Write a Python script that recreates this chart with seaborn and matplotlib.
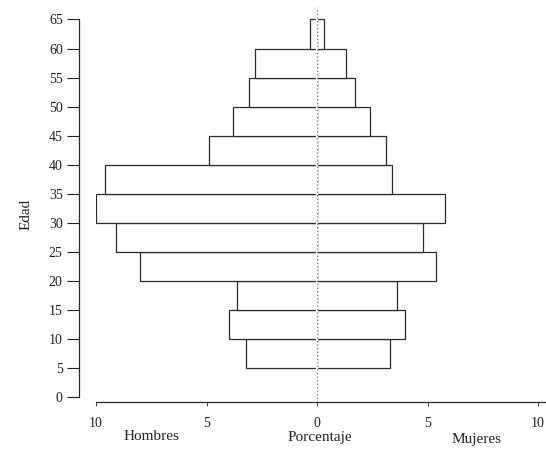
import matplotlib
matplotlib.use("Agg")
import matplotlib.pyplot as plt
import numpy as np
import pandas as pd
import seaborn as sns

# Data (percent of population by 5-year age group)
edad_grupo = [7.5, 12.5, 17.5, 22.5, 27.5, 32.5, 37.5, 42.5, 47.5, 52.5, 57.5, 62.5]
hombres = [3.2, 4.0, 3.6, 8.0, 9.1, 10.0, 9.6, 4.9, 3.8, 3.1, 2.8, 0.3]
mujeres = [3.3, 4.0, 3.6, 5.4, 4.8, 5.8, 3.4, 3.1, 2.4, 1.7, 1.3, 0.3]
x_ticks = [-10, -5, 0, 5, 10]
x_ticklabels = ["10", "5", "0", "5", "10"]
y_ticks = list(range(0, 70, 5))

df = pd.DataFrame({"edad": edad_grupo,
                   "hombres": [-v for v in hombres],
                   "mujeres": mujeres})

sns.set_style("ticks")
plt.rcParams["font.family"] = ["Liberation Serif", "DejaVu Serif"]

W, H = 546, 449
fig = plt.figure(figsize=(W / 100, H / 100), dpi=100)
ax = fig.add_axes([96 / W, 1 - 401.7 / H, (W - 96) / W, (401.7 - 6.7) / H])

edge = "#2a2a2a"
for col in ["hombres", "mujeres"]:
    sns.barplot(data=df, x=col, y="edad", orient="h", native_scale=True,
                width=1.0, color="white", edgecolor=edge, linewidth=0.9,
                errorbar=None, ax=ax, zorder=2)

ax.set_xlim(-10, 10.36)
ax.set_ylim(-0.8, 67.2)

# centre dotted line
ax.axvline(0, color="white", lw=1.6, zorder=3)
ax.axvline(0, color="#666666", lw=0.8, ls=(0, (1, 2.2)), zorder=4)

ax.set_xticks(x_ticks, x_ticklabels)
ax.set_yticks(y_ticks, [str(v) for v in y_ticks])
ax.tick_params(axis="x", length=3, width=0.6, pad=8, labelsize=10, colors="#222222")
ax.tick_params(axis="y", length=9, width=0.8, pad=3, labelsize=10, colors="#222222")

for s in ["top", "right"]:
    ax.spines[s].set_visible(False)
ax.spines["left"].set_position(("outward", 12))
ax.spines["left"].set_bounds(0, 65)
ax.spines["left"].set_linewidth(0.9)
ax.spines["left"].set_color(edge)
ax.spines["bottom"].set_linewidth(0.9)
ax.spines["bottom"].set_color(edge)

ax.set_xlabel("")
ax.set_ylabel("")

fig.text(151 / W, 1 - 437 / H, "Hombres", ha="center", va="center", fontsize=11, color="#222222")
fig.text(320 / W, 1 - 437 / H, "Porcentaje", ha="center", va="center", fontsize=11, color="#222222")
fig.text(477 / W, 1 - 440 / H, "Mujeres", ha="center", va="center", fontsize=11, color="#222222")
fig.text(26 / W, 1 - 214 / H, "Edad", ha="center", va="center", rotation=90, fontsize=11, color="#222222")

fig.savefig("out.png", dpi=100, facecolor="white")
